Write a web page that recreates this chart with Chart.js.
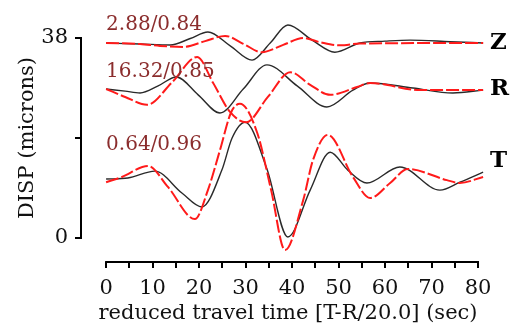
<!DOCTYPE html>
<html>
<head>
<meta charset="utf-8">
<script src="https://cdn.jsdelivr.net/npm/chart.js@4.4.0/dist/chart.umd.min.js"></script>
<style>
  html, body { margin: 0; padding: 0; background: #fff; }
  #wrap { width: 510px; height: 326px; }
</style>
</head>
<body>
<div id="wrap"><canvas id="disp-chart" width="510" height="326"></canvas></div>
<script>
// observed (black) and synthetic (red dashed) displacement, offset per component
const zObsT = [0, 7.3, 13.8, 18.1, 21.9, 26.7, 31.4, 35.3, 39.1, 44.3, 49.2, 54.6, 60, 65.4, 74, 81.1];
const zObs  = [37.05, 36.86, 36.67, 37.9, 39.14, 36.5, 33.8, 37.05, 40.47, 37.6, 35.3, 37.05, 37.4, 37.6, 37.3, 37.05];
const zSynT = [0, 7.3, 11.6, 16.6, 21.3, 25.6, 29.5, 33.5, 38.1, 42.4, 46, 50.3, 54.6, 81.1];
const zSyn  = [37.05, 36.86, 36.5, 36.3, 37.4, 38.4, 36.9, 35.3, 36.7, 38.0, 37.2, 36.6, 36.95, 37.05];

const rObsT = [0, 4.1, 7.3, 11.2, 15.1, 19.8, 24.5, 29.5, 34.6, 41.1, 47.5, 53.1, 56.8, 66, 74.6, 81.1];
const rObs  = [28.31, 27.9, 27.55, 28.9, 30.6, 27.2, 23.75, 28.3, 32.9, 28.9, 24.9, 28.1, 29.45, 28.5, 27.55, 28.1];
const rSynT = [0, 4.1, 8.8, 14.2, 19.6, 23.0, 26.7, 30.1, 34.8, 39.6, 43.9, 48.2, 54, 56.8, 67.5, 81.1];
const rSyn  = [28.31, 26.8, 25.3, 29.6, 34.4, 29.5, 23.9, 22.0, 26.8, 31.5, 29.1, 27.2, 28.7, 29.45, 28.1, 28.1];

const tObsT = [0, 4.7, 10.5, 16.3, 20.6, 24.9, 27.1, 29.9, 34.6, 39.1, 43.9, 48.2, 52, 56.1, 63.2, 71.8, 76.1, 81.1];
const tObs  = [11.2, 11.4, 12.7, 8.55, 5.9, 12.9, 19.0, 22.0, 13.1, 0.19, 9.1, 16.3, 12.9, 10.45, 13.5, 9.1, 10.6, 12.5];
const tSynT = [0, 3.4, 9, 13.3, 19.1, 21.9, 24.5, 26.9, 28.8, 32.5, 35.5, 38.5, 42.4, 44.5, 47.7, 53.1, 56.8, 61.1, 64.9, 73.3, 76.1, 81.1];
const tSyn  = [10.6, 11.6, 13.7, 9.7, 3.6, 9.1, 16.7, 23.9, 25.5, 20.0, 9.1, -2.3, 7.2, 14.8, 19.6, 11.6, 7.6, 10.45, 13.1, 11.0, 10.45, 11.6];

const xTicks = [0, 5, 10, 15, 20, 25, 30, 35, 40, 45, 50, 55, 60, 65, 70, 75, 80];
const yTicks = [0, 19, 38];
const fitLabels = ['2.88/0.84', '16.32/0.85', '0.64/0.96'];
const compLabels = ['Z', 'R', 'T'];

const FONT = "'DejaVu Serif', 'Liberation Serif', serif";

function pts(ts, vs) {
  return ts.map((t, i) => ({ x: t, y: vs[i] }));
}

function obs(ts, vs) {
  return {
    data: pts(ts, vs), borderColor: '#2a2a2a', borderWidth: 1.4,
    pointRadius: 0, cubicInterpolationMode: 'monotone', clip: false, order: 1
  };
}

function syn(ts, vs) {
  return {
    data: pts(ts, vs), borderColor: '#ff1a1a', borderWidth: 2, borderDash: [13, 3],
    pointRadius: 0, cubicInterpolationMode: 'monotone', clip: false, order: 0
  };
}

// axis lines, titles and trace annotations
const decor = {
  id: 'decor',
  afterDraw(chart) {
    const { ctx, scales: { x, y } } = chart;
    ctx.save();
    ctx.strokeStyle = '#000';
    ctx.lineWidth = 2;
    ctx.beginPath();
    const yb = chart.chartArea.bottom;
    ctx.moveTo(x.getPixelForValue(0) - 1, yb);
    ctx.lineTo(x.getPixelForValue(80) + 1, yb);
    const xl = chart.chartArea.left;
    ctx.moveTo(xl, y.getPixelForValue(0) + 1);
    ctx.lineTo(xl, y.getPixelForValue(38) - 1);
    ctx.stroke();

    ctx.fillStyle = '#111';
    ctx.font = '21px ' + FONT;
    ctx.textAlign = 'center';
    ctx.textBaseline = 'middle';
    ctx.fillText('reduced travel time [T-R/20.0] (sec)', 288, 314);

    ctx.save();
    ctx.translate(28, 138);
    ctx.rotate(-Math.PI / 2);
    ctx.fillText('DISP (microns)', 0, 0);
    ctx.restore();

    // fit labels above each trace
    ctx.fillStyle = '#8b2d2d';
    ctx.font = '20px ' + FONT;
    ctx.textAlign = 'left';
    const fitY = [40.5, 31.5, 17.7];
    fitLabels.forEach((s, i) => {
      ctx.fillText(s, x.getPixelForValue(0), y.getPixelForValue(fitY[i]));
    });

    // component names at the right end of the traces
    ctx.fillStyle = '#000';
    ctx.font = 'bold 23px ' + FONT;
    const compY = [37.05, 28.3, 14.6];
    compLabels.forEach((s, i) => {
      ctx.fillText(s, x.getPixelForValue(82.6), y.getPixelForValue(compY[i]));
    });
    ctx.restore();
  }
};

new Chart(document.getElementById('disp-chart'), {
  type: 'line',
  data: {
    datasets: [
      obs(zObsT, zObs), syn(zSynT, zSyn),
      obs(rObsT, rObs), syn(rSynT, rSyn),
      obs(tObsT, tObs), syn(tSynT, tSyn)
    ]
  },
  options: {
    responsive: false,
    animation: false,
    devicePixelRatio: 1,
    layout: { padding: { top: 38, right: 32, bottom: 0, left: 0 } },
    plugins: { legend: { display: false }, tooltip: { enabled: false } },
    scales: {
      x: {
        type: 'linear',
        min: -5.4,
        max: 80,
        afterBuildTicks: (s) => { s.ticks = xTicks.map(v => ({ value: v })); },
        afterFit: (s) => { s.height = 64; },
        grid: { drawOnChartArea: false, drawTicks: true, tickLength: 6, color: '#000', lineWidth: 2 },
        border: { display: false },
        ticks: {
          padding: 8,
          color: '#111',
          font: { family: FONT, size: 21 },
          maxRotation: 0,
          autoSkip: false,
          callback: (v) => (v % 10 === 0 ? String(v) : '')
        }
      },
      y: {
        type: 'linear',
        min: -4.56,
        max: 38,
        afterBuildTicks: (s) => { s.ticks = yTicks.map(v => ({ value: v })); },
        afterFit: (s) => { s.width = 81; },
        grid: { drawOnChartArea: false, drawTicks: true, tickLength: 6, color: '#000', lineWidth: 2 },
        border: { display: false },
        ticks: {
          padding: 7,
          color: '#111',
          font: { family: FONT, size: 21 },
          autoSkip: false,
          callback: (v) => (v === 19 ? '' : String(v))
        }
      }
    }
  },
  plugins: [decor]
});
</script>
</body>
</html>
